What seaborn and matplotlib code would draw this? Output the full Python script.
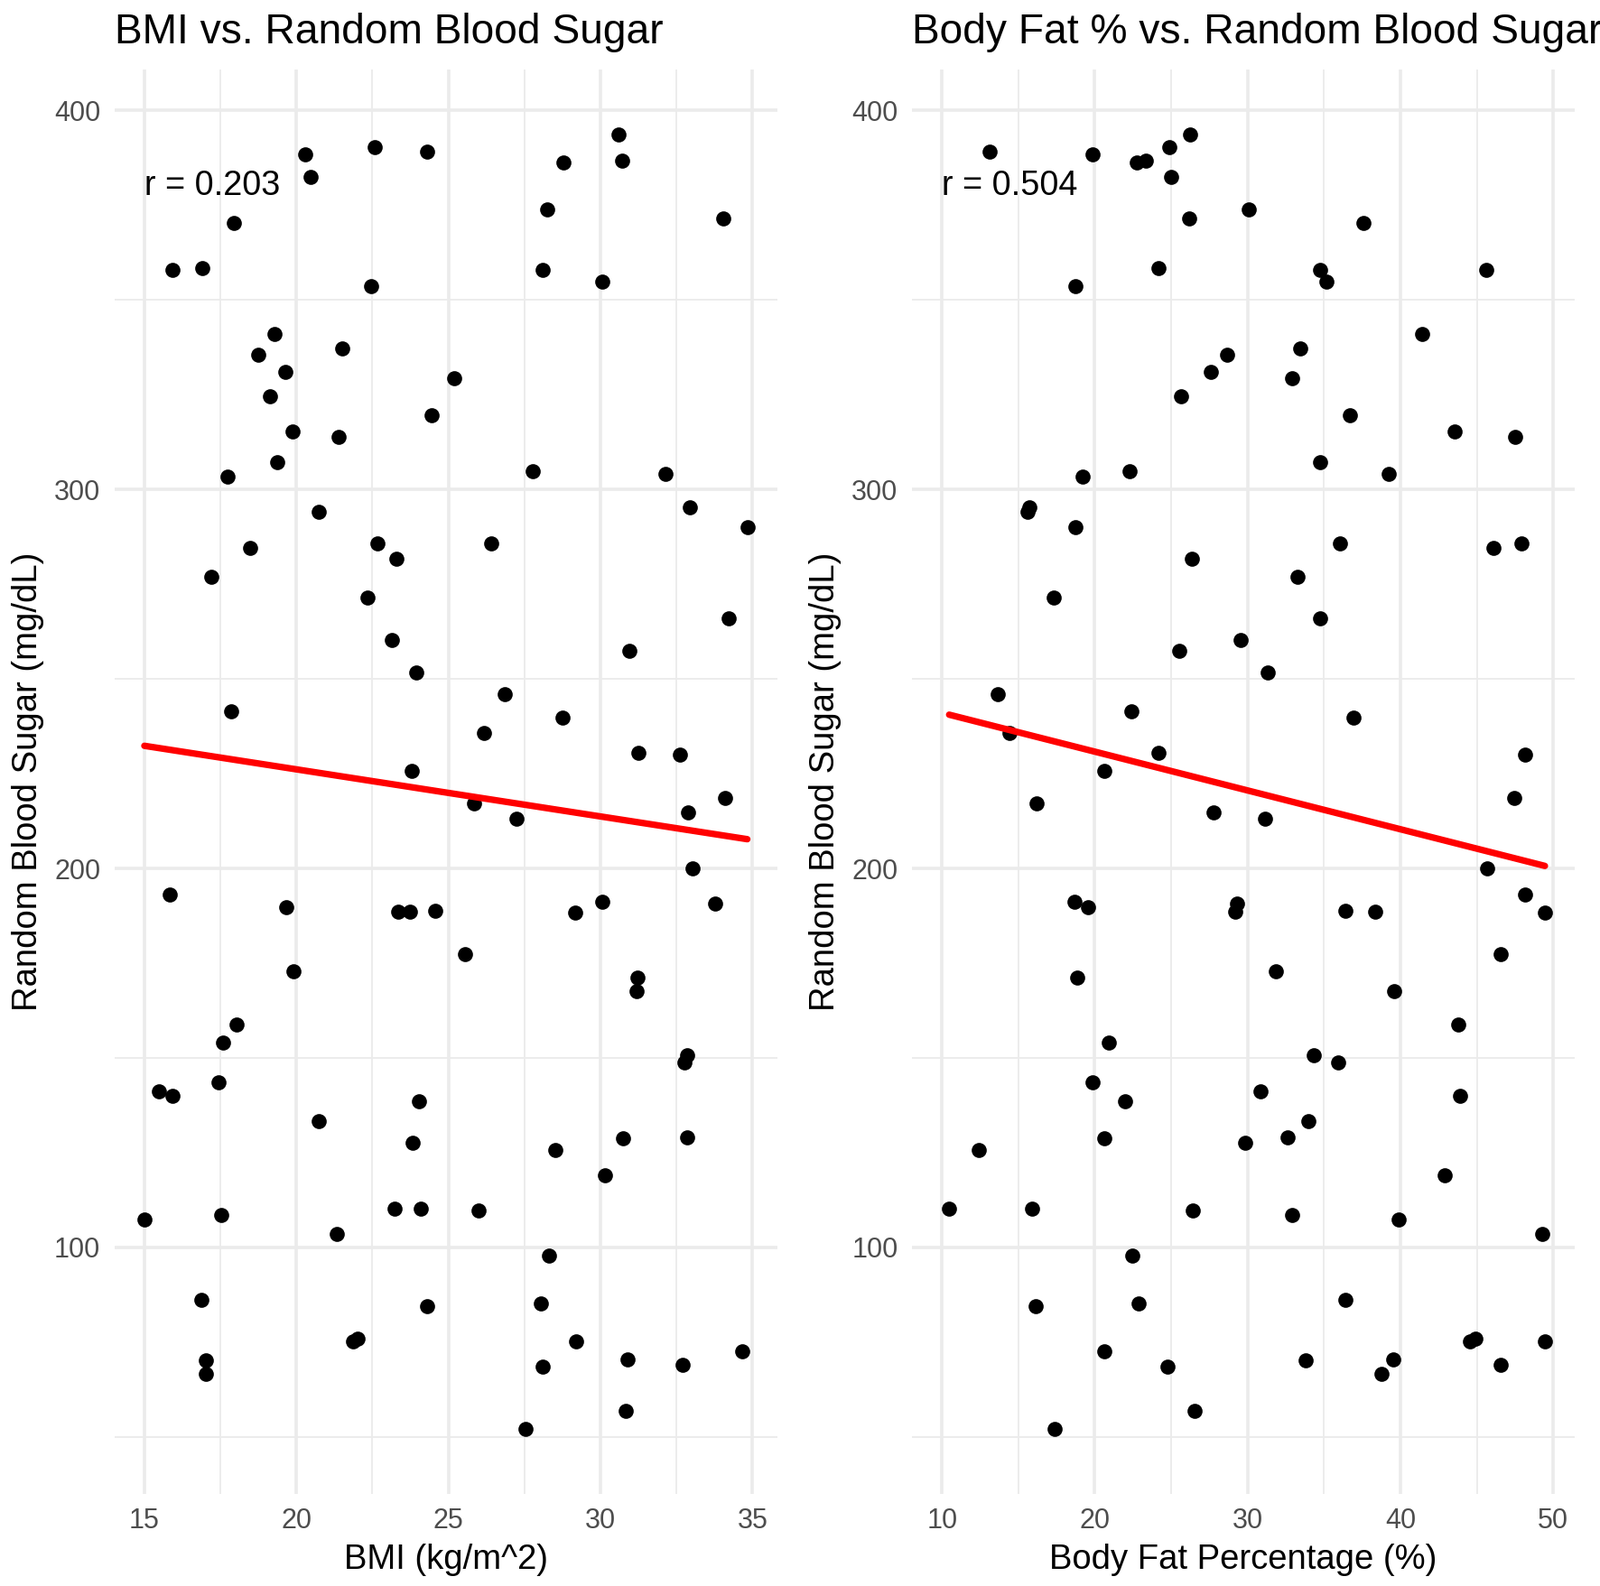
import numpy as np
import pandas as pd
import matplotlib.pyplot as plt
from matplotlib.ticker import MultipleLocator
import seaborn as sns

# values, one entry per subject
blood_sugar = [393.8, 390.3, 389.2, 388.4, 386.3, 386.8, 382.5, 373.9, 370.4, 371.5,
               358.0, 358.5, 358.0, 354.8, 353.7, 341.0, 335.6, 337.2, 331.1, 329.4,
               324.6, 319.5, 315.4, 313.8, 307.1, 303.3, 304.9, 304.1, 294.2, 295.2,
               290.1, 284.5, 285.8, 285.8, 281.8, 276.9, 271.5, 266.1, 260.2, 257.5,
               251.6, 245.9, 241.4, 239.8, 235.7, 230.6, 230.1, 225.7, 218.5, 217.1,
               214.7, 213.1, 200.0, 193.1, 189.7, 191.3, 188.6, 188.6, 188.9, 188.3,
               190.7, 172.9, 177.3, 171.3, 167.6, 158.9, 154.1, 150.6, 148.7, 143.6,
               141.2, 140.1, 138.5, 133.4, 127.7, 128.8, 129.1, 125.6, 119.1, 107.3,
               108.6, 110.2, 110.2, 109.7, 103.5, 97.8, 86.2, 84.6, 85.2, 75.2,
               76.0, 75.2, 72.5, 70.1, 66.6, 70.4, 68.5, 69.0, 56.9, 52.0]

bmi = [30.60, 22.57, 24.29, 20.30, 28.78, 30.71, 20.47, 28.24, 17.94, 34.05,
       15.91, 16.89, 28.11, 30.07, 22.47, 19.29, 18.75, 21.52, 19.63, 25.20,
       19.12, 24.46, 19.86, 21.39, 19.36, 17.74, 27.77, 32.13, 20.74, 32.94,
       34.83, 18.48, 22.67, 26.42, 23.28, 17.20, 22.33, 34.22, 23.14, 30.95,
       23.95, 26.86, 17.84, 28.75, 26.18, 31.25, 32.60, 23.78, 34.09, 25.84,
       32.87, 27.23, 33.04, 15.84, 19.66, 30.07, 23.34, 23.72, 24.56, 29.16,
       33.78, 19.90, 25.54, 31.22, 31.18, 18.04, 17.60, 32.84, 32.77, 17.43,
       15.47, 15.91, 24.02, 20.74, 23.82, 30.74, 32.84, 28.51, 30.14, 15.00,
       17.53, 23.24, 24.09, 25.98, 21.32, 28.31, 16.86, 24.29, 28.04, 21.85,
       22.00, 29.19, 34.66, 17.03, 17.03, 30.88, 28.11, 32.70, 30.84, 27.53]

body_fat = [26.24, 24.90, 13.09, 19.87, 22.75, 23.36, 24.97, 30.07, 37.58, 26.17,
            45.64, 24.16, 34.77, 35.17, 18.72, 41.41, 28.66, 33.42, 27.58, 32.89,
            25.64, 36.71, 43.56, 47.52, 34.77, 19.19, 22.28, 39.26, 15.60, 15.70,
            18.72, 46.10, 36.04, 47.92, 26.38, 33.29, 17.32, 34.77, 29.53, 25.50,
            31.34, 13.62, 22.42, 36.91, 14.43, 24.16, 48.19, 20.60, 47.45, 16.17,
            27.79, 31.14, 45.70, 48.19, 19.53, 18.66, 29.20, 38.34, 36.38, 49.46,
            29.30, 31.88, 46.58, 18.86, 39.60, 43.76, 20.94, 34.36, 35.91, 19.87,
            30.87, 43.89, 22.01, 33.96, 29.87, 20.60, 32.62, 12.42, 42.89, 39.87,
            32.89, 10.47, 15.91, 26.44, 49.26, 22.48, 36.38, 16.11, 22.89, 44.56,
            44.90, 49.46, 20.60, 33.83, 38.79, 39.53, 24.77, 46.58, 26.51, 17.38]

r_labels = ['r = 0.203', 'r = 0.504']
r_x = [15, 10]
r_y = 380

df = pd.DataFrame({'BMI': bmi, 'Body_Fat': body_fat, 'Blood_Sugar': blood_sugar})

sns.set_theme(style='white')
plt.rcParams['font.family'] = ['Liberation Sans', 'DejaVu Sans']
plt.rcParams['text.color'] = 'black'
plt.rcParams['axes.labelcolor'] = 'black'

fig = plt.figure(figsize=(8.86, 8.785), dpi=200)
ax1 = fig.add_axes([0.0714, 0.058, 0.4145, 0.8983])
ax2 = fig.add_axes([0.5699, 0.058, 0.4145, 0.8983])

panels = [
    ('BMI', 'BMI vs. Random Blood Sugar', 'BMI (kg/m^2)', 5),
    ('Body_Fat', 'Body Fat % vs. Random Blood Sugar', 'Body Fat Percentage (%)', 10),
]

for ax, (col, title, xlabel, step), r_text, rx in zip([ax1, ax2], panels, r_labels, r_x):
    sns.regplot(data=df, x=col, y='Blood_Sugar', ax=ax, ci=None,
                scatter_kws={'s': 36, 'color': 'black', 'linewidths': 0, 'alpha': 1},
                line_kws={'color': 'red', 'linewidth': 2.6})

    # like ggplot, the annotation takes part in the x range
    lo = min(df[col].min(), rx)
    hi = df[col].max()
    pad = (hi - lo) * 0.05
    ax.set_xlim(lo - pad, hi + pad)
    ylo, yhi = df['Blood_Sugar'].min(), df['Blood_Sugar'].max()
    ypad = (yhi - ylo) * 0.05
    ax.set_ylim(ylo - ypad, yhi + ypad)

    ax.xaxis.set_major_locator(MultipleLocator(step))
    ax.xaxis.set_minor_locator(MultipleLocator(step / 2))
    ax.yaxis.set_major_locator(MultipleLocator(100))
    ax.yaxis.set_minor_locator(MultipleLocator(50))
    ax.grid(which='major', color='#EBEBEB', linewidth=1.3)
    ax.grid(which='minor', color='#EBEBEB', linewidth=0.65)
    ax.set_axisbelow(True)
    for s in ax.spines.values():
        s.set_visible(False)
    ax.tick_params(which='both', length=0, labelsize=11, labelcolor='#4D4D4D', pad=5.5)

    ax.set_title(title, loc='left', fontsize=16.6, pad=10.5, color='black')
    ax.set_xlabel(xlabel, fontsize=13.75, labelpad=3.5)
    ax.set_ylabel('Random Blood Sugar (mg/dL)', fontsize=13.75, labelpad=4)
    ax.text(rx, r_y, r_text, fontsize=13.6, ha='left', va='center', color='black')

plt.savefig('out.png', dpi=200)
